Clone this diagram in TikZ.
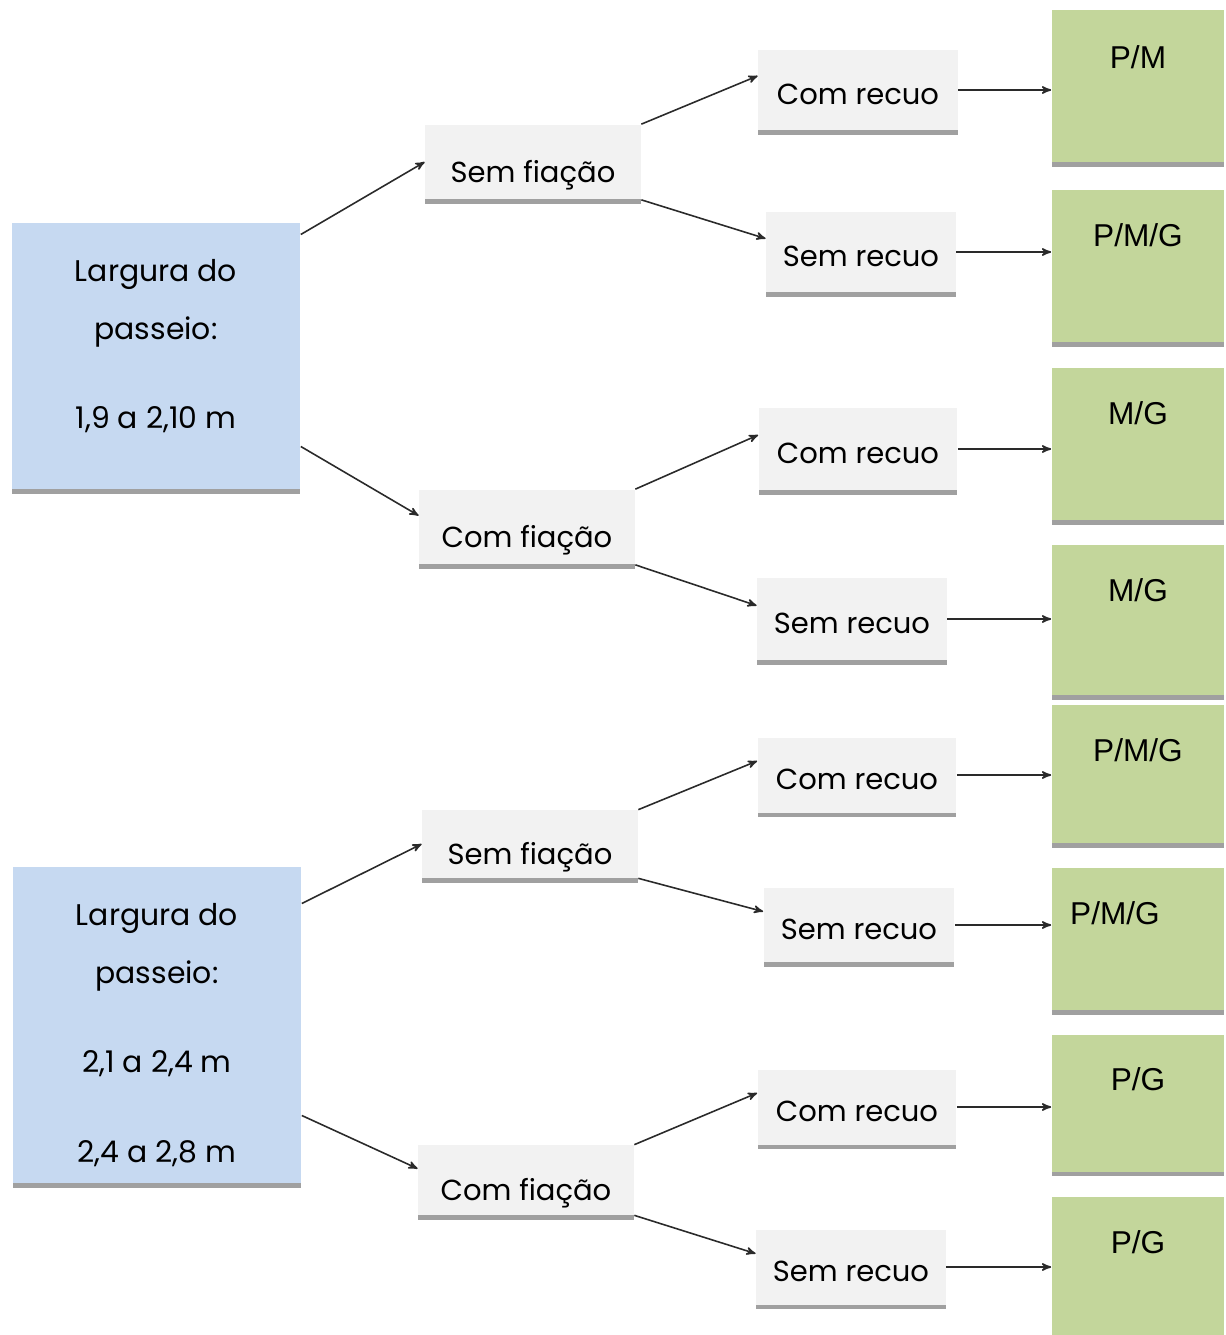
\documentclass[tikz,border=0pt]{standalone}
\usepackage{fontspec}
\setmainfont{Poppins}
\newfontfamily\arialfont{Liberation Sans}
\usetikzlibrary{shapes,arrows,shadows}
\definecolor{boxblue}{HTML}{C6D9F1}
\definecolor{boxgreen}{HTML}{C3D69B}
\definecolor{boxgray}{HTML}{F2F2F2}
\definecolor{barshade}{HTML}{A0A0A0}
\definecolor{linegray}{HTML}{2A2A2A}

\begin{document}
\begin{tikzpicture}[x=0.02cm,y=-0.02cm]
	\tikzstyle{base} = [rectangle, inner sep=0pt, drop shadow={shadow xshift=0pt, shadow yshift=-2.8pt, fill=barshade, opacity=1}]
	\tikzstyle{width_box} = [base, fill=boxblue, minimum width=5.78cm, align=center, font=\fontsize{17}{20}\selectfont]
	\tikzstyle{wire_box} = [base, fill=boxgray, minimum width=4.32cm, text height=26pt, text depth=3pt, font=\fontsize{16.5}{20}\selectfont]
	\tikzstyle{setback_box} = [base, fill=boxgray, text height=19pt, text depth=3pt, font=\fontsize{16.5}{20}\selectfont]
	\tikzstyle{size_box} = [base, fill=boxgreen, minimum width=3.46cm]
	\tikzstyle{size_text} = [anchor=north, font=\arialfont\fontsize{18}{21}\selectfont]
	\tikzstyle{link} = [->, >=stealth', color=linegray, line width=0.9pt]
	\useasboundingbox (0,0) rectangle (1225,1335);

	% Width boxes
	\node[width_box, minimum height=5.34cm] (w1) at (156,356) {Largura do\\[13pt]passeio:\\[31pt]1,9 a 2,10 m\\[-6.4pt]\mbox{}};
	\node[width_box, minimum height=6.32cm] (w2) at (157,1025) {\mbox{}\\[3.8pt]Largura do\\[13pt]passeio:\\[31pt]2,1 a 2,4 m\\[31pt]2,4 a 2,8 m};

	% Wiring boxes
	\node[wire_box, minimum height=1.5cm] (sf1) at (533,162) {Sem fiação};
	\node[wire_box, minimum height=1.5cm] (cf1) at (527,527) {Com fiação};
	\node[wire_box, minimum height=1.36cm] (sf2) at (530,844) {Sem fiação};
	\node[wire_box, minimum height=1.4cm] (cf2) at (526,1180) {Com fiação};

	% Setback boxes
	\node[setback_box, minimum width=4cm, minimum height=1.6cm] (cr1) at (858,90) {Com recuo};
	\node[setback_box, minimum width=3.8cm, minimum height=1.62cm] (sr1) at (861,252) {Sem recuo};
	\node[setback_box, minimum width=3.98cm, minimum height=1.64cm] (cr2) at (858,449) {Com recuo};
	\node[setback_box, minimum width=3.8cm, minimum height=1.64cm] (sr2) at (852,619) {Sem recuo};
	\node[setback_box, minimum width=3.98cm, minimum height=1.5cm] (cr3) at (857,775) {Com recuo};
	\node[setback_box, minimum width=3.82cm, minimum height=1.48cm] (sr3) at (859,925) {Sem recuo};
	\node[setback_box, minimum width=3.98cm, minimum height=1.5cm] (cr4) at (857,1107) {Com recuo};
	\node[setback_box, minimum width=3.8cm, minimum height=1.5cm] (sr4) at (851,1267) {Sem recuo};

	% Size boxes
	\node[size_box, minimum height=3.06cm] (g1) at (1138,86) {};
	\node[size_box, minimum height=3.04cm] (g2) at (1138,266) {};
	\node[size_box, minimum height=3.04cm] (g3) at (1138,444) {};
	\node[size_box, minimum height=3cm] (g4) at (1138,620) {};
	\node[size_box, minimum height=2.76cm] (g5) at (1138,774) {};
	\node[size_box, minimum height=2.84cm] (g6) at (1138,939) {};
	\node[size_box, minimum height=2.74cm] (g7) at (1138,1103) {};
	\node[size_box, minimum height=2.76cm] (g8) at (1138,1266) {};
	% Label sizes
	\node[size_text] (t1) at ([yshift=-0.6cm]g1.north) {P/M};
	\node[size_text] (t2) at ([yshift=-0.55cm]g2.north) {P/M/G};
	\node[size_text] (t3) at ([yshift=-0.55cm]g3.north) {M/G};
	\node[size_text] (t4) at ([yshift=-0.55cm]g4.north) {M/G};
	\node[size_text] (t5) at ([yshift=-0.55cm]g5.north) {P/M/G};
	\node[size_text] (t6) at ([xshift=-0.46cm, yshift=-0.55cm]g6.north) {P/M/G};
	\node[size_text] (t7) at ([yshift=-0.55cm]g7.north) {P/G};
	\node[size_text] (t8) at ([yshift=-0.55cm]g8.north) {P/G};

	% Width to wiring
	\draw [link] (w1.40) -- (sf1.west);
	\draw [link] (w1.-32) -- (cf1.174);
	\draw [link] (w2.40) -- (sf2.west);
	\draw [link] (w2.-32) -- (cf2.174);

	% Wiring to setback
	\draw [link] (sf1.north east) -- (cr1.172);
	\draw [link] (sf1.south east) -- (sr1.172);
	\draw [link] (cf1.north east) -- (cr2.172);
	\draw [link] (cf1.south east) -- (sr2.172);
	\draw [link] (sf2.north east) -- (cr3.172);
	\draw [link] (sf2.south east) -- (sr3.172);
	\draw [link] (cf2.north east) -- (cr4.172);
	\draw [link] (cf2.south east) -- (sr4.172);

	% Setback to size
	\draw [link] (cr1.east) -- (cr1.east -| g1.west);
	\draw [link] (sr1.east) -- (sr1.east -| g2.west);
	\draw [link] (cr2.east) -- (cr2.east -| g3.west);
	\draw [link] (sr2.east) -- (sr2.east -| g4.west);
	\draw [link] (cr3.east) -- (cr3.east -| g5.west);
	\draw [link] (sr3.east) -- (sr3.east -| g6.west);
	\draw [link] (cr4.east) -- (cr4.east -| g7.west);
	\draw [link] (sr4.east) -- (sr4.east -| g8.west);

\end{tikzpicture}
\end{document}
